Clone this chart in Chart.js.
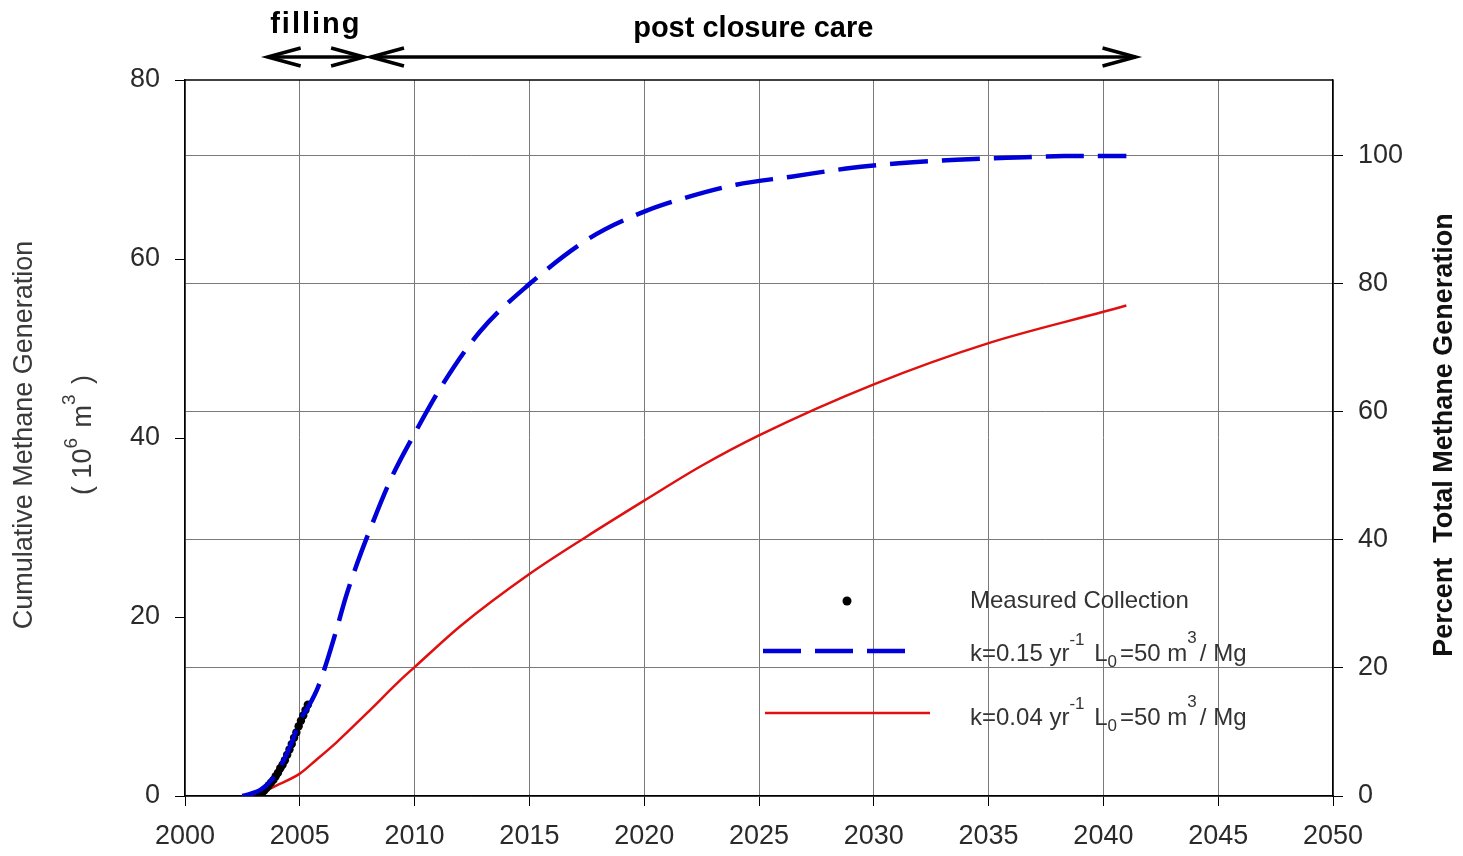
<!DOCTYPE html>
<html>
<head>
<meta charset="utf-8">
<script src="https://cdn.jsdelivr.net/npm/chart.js@4"></script>
<style>
body{margin:0;background:#fff}
#box{width:1463px;height:856px}
</style>
</head>
<body>
<div id="box"><canvas id="grafico"></canvas></div>
<script>
// cumulative methane, 10^6 m3
let yearsFast=[2002.5,2003.3,2003.9,2004.3,2004.7,2005.0,2005.4,2005.8,2006.2,2006.6,2007.0,2007.5,2008.0,2009.0,2010.0,2011.25,2012.85,2015,2017.6,2020,2022,2024,2026.4,2028.8,2031.1,2033.6,2035.8,2038.3,2041]
let genFast=[0,0.7,2.2,4.0,6.3,8.4,10.1,12.2,15.2,18.6,22.2,26.0,29.4,35.6,40.5,46.1,51.9,57.2,62.3,65.3,67.0,68.3,69.2,70.1,70.7,71.1,71.3,71.5,71.5]

let yearsSlow=[2002.5,2003.3,2004.0,2005.0,2005.7,2006.6,2007.9,2009.4,2010,2012,2015,2017.5,2020,2022.5,2025,2030,2035,2040,2041]
let genSlow=[0,0.4,1.2,2.5,4.0,6.0,9.2,13.0,14.4,19.0,24.8,29.0,33.0,36.9,40.3,46.0,50.6,54.1,54.8]

let yearsMeas=[2003.25,2003.35,2003.45,2003.55,2003.65,2003.75,2003.85,2003.95,2004.05,2004.15,2004.25,2004.35,2004.45,2004.55,2004.65,2004.75,2004.85,2004.95,2005.05,2005.15,2005.25,2005.35]
let genMeas=[0,0.3,0.6,0.9,1.2,1.5,1.8,2.2,2.6,3.1,3.5,4.0,4.6,5.2,5.8,6.5,7.1,7.8,8.4,9.0,9.6,10.2]

let yearTicks=[2000,2005,2010,2015,2020,2025,2030,2035,2040,2045,2050]
let genTicks=[0,20,40,60,80]
let pctTicks=[0,20,40,60,80,100]
let totalGen=71.6 // 100 percent

let periods=[{label:"filling",from:2003.6,to:2007.8},{label:"post closure care",from:2008.1,to:2041.4}]

function pts(xs,ys){return xs.map((x,i)=>({x:x,y:ys[i]}))}

let font="'Liberation Sans', Arial, sans-serif"
let txt="#2a2a2a"

function head(ctx,x,y,dir){
ctx.beginPath()
ctx.moveTo(x+dir*33,y-9)
ctx.lineTo(x,y)
ctx.lineTo(x+dir*33,y+9)
ctx.stroke()
}

// text with super/subscripts, parts = [[text, shift]]
function rich(ctx,parts,x,y,size,draw){
let small=Math.round(size*0.72)
parts.forEach(p=>{
let s=p[1]!=0
ctx.font=(s?small:size)+"px "+font
if(draw!==false) ctx.fillText(p[0],x,y+p[1])
x+=ctx.measureText(p[0]).width+(s?3:0)
})
return x
}

function vertical(ctx,cx,cy,fn){
ctx.save()
ctx.translate(cx,cy)
ctx.rotate(-Math.PI/2)
fn()
ctx.restore()
}

const extras={
id:"extras",
afterDraw(chart){
let ctx=chart.ctx
let a=chart.chartArea
let x=chart.scales.x
let midY=(a.top+a.bottom)/2-3
ctx.save()

// top border of the box
ctx.strokeStyle="#000"
ctx.lineWidth=1.5
ctx.beginPath();ctx.moveTo(a.left,a.top);ctx.lineTo(a.right,a.top);ctx.stroke()

// period arrows
ctx.lineWidth=3.5
ctx.lineJoin="miter"
ctx.fillStyle="#000"
ctx.textAlign="center"
ctx.textBaseline="alphabetic"
periods.forEach((p,i)=>{
let x1=x.getPixelForValue(p.from)
let x2=x.getPixelForValue(p.to)
let y=a.top-23
ctx.beginPath();ctx.moveTo(x1,y);ctx.lineTo(x2,y);ctx.stroke()
head(ctx,x1,y,1)
head(ctx,x2,y,-1)
ctx.font="bold 29px "+font
ctx.letterSpacing=i==0?"2px":"0px"
ctx.fillText(p.label,(x1+x2)/2,i==0?33:37)
})
ctx.letterSpacing="0px"

// axis titles
ctx.textAlign="center"
ctx.textBaseline="middle"
ctx.fillStyle="#3a3a3a"
vertical(ctx,25,midY,()=>{
ctx.font="27px "+font
ctx.fillText("Cumulative Methane Generation",0,0)
})
let unit=[["( 10",0],["6",-12],[" m",0],["3",-14],[" )",0]]
vertical(ctx,84,midY,()=>{
ctx.textAlign="left"
let w=rich(ctx,unit,0,0,27,false)
rich(ctx,unit,-w/2,0,27)
})
ctx.fillStyle="#111"
vertical(ctx,1445,midY,()=>{
ctx.font="bold 27px "+font
ctx.fillText("Percent  Total Methane Generation",0,0)
})

// legend
let ds=chart.data.datasets
ctx.textAlign="left"
ctx.textBaseline="middle"
ctx.fillStyle=ds[1].pointBackgroundColor
ctx.beginPath();ctx.arc(847,601,4.5,0,Math.PI*2);ctx.fill()

ctx.strokeStyle=ds[0].borderColor
ctx.lineWidth=ds[0].borderWidth
ctx.setLineDash(ds[0].borderDash)
ctx.beginPath();ctx.moveTo(763,651);ctx.lineTo(915,651);ctx.stroke()
ctx.setLineDash([])

ctx.strokeStyle=ds[2].borderColor
ctx.lineWidth=ds[2].borderWidth
ctx.beginPath();ctx.moveTo(765,713);ctx.lineTo(930,713);ctx.stroke()

ctx.fillStyle="#333"
ctx.font="24px "+font
ctx.fillText("Measured Collection",970,601)
rich(ctx,[["k=0.15 yr",0],["-1",-14],[" L",0],["0",8],["=50 m",0],["3",-16],["/ Mg",0]],970,654,24)
rich(ctx,[["k=0.04 yr",0],["-1",-14],[" L",0],["0",8],["=50 m",0],["3",-16],["/ Mg",0]],970,718,24)
ctx.restore()
}
}

new Chart(document.getElementById("grafico"),{
type:"scatter",
data:{datasets:[
{label:"k=0.15",data:pts(yearsFast,genFast),showLine:true,borderColor:"#0000d8",borderWidth:4.5,borderDash:[38,14],pointRadius:0,cubicInterpolationMode:"monotone",order:0},
{label:"Measured Collection",data:pts(yearsMeas,genMeas),showLine:false,pointRadius:4.2,pointBackgroundColor:"#000",pointBorderWidth:0,order:1},
{label:"k=0.04",data:pts(yearsSlow,genSlow),showLine:true,borderColor:"#e01010",borderWidth:2.5,pointRadius:0,cubicInterpolationMode:"monotone",order:2}
]},
options:{
responsive:true,
maintainAspectRatio:false,
animation:false,
layout:{padding:{top:80,left:0,right:0,bottom:0}},
plugins:{legend:{display:false},tooltip:{enabled:false}},
scales:{
x:{
type:"linear",min:2000,max:2050,
afterBuildTicks:s=>{s.ticks=yearTicks.map(v=>({value:v}))},
afterFit:s=>{s.height=60},
ticks:{color:txt,font:{family:font,size:27},padding:14,callback:v=>String(v),maxRotation:0},
grid:{color:"#7a7a7a",lineWidth:1,tickColor:"#000",tickLength:10},
border:{color:"#000",width:1.5}
},
y:{
position:"left",min:0,max:80,
afterBuildTicks:s=>{s.ticks=genTicks.map(v=>({value:v}))},
afterFit:s=>{s.width=185},
ticks:{color:txt,font:{family:font,size:27},padding:15,callback:v=>String(v)},
grid:{drawOnChartArea:false,tickColor:"#000",tickLength:10},
border:{color:"#000",width:1.5}
},
y2:{
position:"right",min:0,max:80/totalGen*100,
afterBuildTicks:s=>{s.ticks=pctTicks.map(v=>({value:v}))},
afterFit:s=>{s.width=130},
ticks:{color:txt,font:{family:font,size:27},padding:15,callback:v=>String(v)},
grid:{color:"#7a7a7a",lineWidth:1,tickColor:"#000",tickLength:10},
border:{color:"#000",width:1.5}
}
}
},
plugins:[extras]
})
</script>
</body>
</html>
